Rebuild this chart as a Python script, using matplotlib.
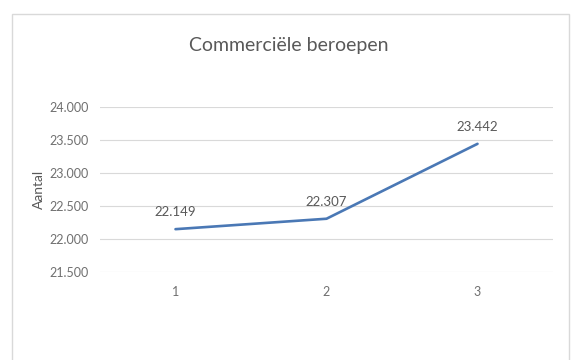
import matplotlib.pyplot as plt
from matplotlib.patches import Rectangle
from matplotlib.ticker import FuncFormatter

categories = ["1", "2", "3"]
aantal = [22149, 22307, 23442]
y_ticks = [21500, 22000, 22500, 23000, 23500, 24000]

TEXT = "#595959"
TICK = "#6f6f6f"
GRID = "#d9d9d9"
LINE = "#4a78b5"

plt.rcParams["font.family"] = ["Lato", "DejaVu Sans"]


def dotted(v, _pos=None):
    return f"{int(v):,}".replace(",", ".")


fig = plt.figure(figsize=(5.77, 3.6), dpi=100)

# chart frame
fig.patches.append(Rectangle((12 / 577, -0.05), 557 / 577, 1 - 14 / 360 + 0.05,
                             transform=fig.transFigure, fill=False,
                             edgecolor=GRID, linewidth=1.0))

ax = fig.add_axes([100 / 577, 1 - 272 / 360, 453 / 577, 165 / 360])
x = range(len(categories))
ax.plot(x, aantal, color=LINE, linewidth=1.9, solid_capstyle="round")

for xi, v in zip(x, aantal):
    ax.annotate(dotted(v), (xi, v), xytext=(0, 8), textcoords="offset points",
                ha="center", va="bottom", fontsize=9.5, color=TEXT)

ax.set_xlim(-0.5, len(categories) - 0.5)
ax.set_ylim(y_ticks[0], y_ticks[-1])
ax.set_yticks(y_ticks)
ax.yaxis.set_major_formatter(FuncFormatter(dotted))
ax.set_xticks(list(x))
ax.set_xticklabels(categories)

ax.grid(axis="y", color=GRID, linewidth=0.8)
ax.set_axisbelow(True)
for s in ax.spines.values():
    s.set_visible(False)
ax.tick_params(length=0, colors=TICK, labelsize=9)
ax.tick_params(axis="x", pad=10)
ax.tick_params(axis="y", pad=8)

ax.set_ylabel("Aantal", fontsize=10, color=TEXT, labelpad=3)
fig.text(289 / 577, 1 - 45 / 360, "Commerciële beroepen", ha="center",
         va="center", fontsize=14, color=TEXT)

fig.savefig("out.png", dpi=100)
